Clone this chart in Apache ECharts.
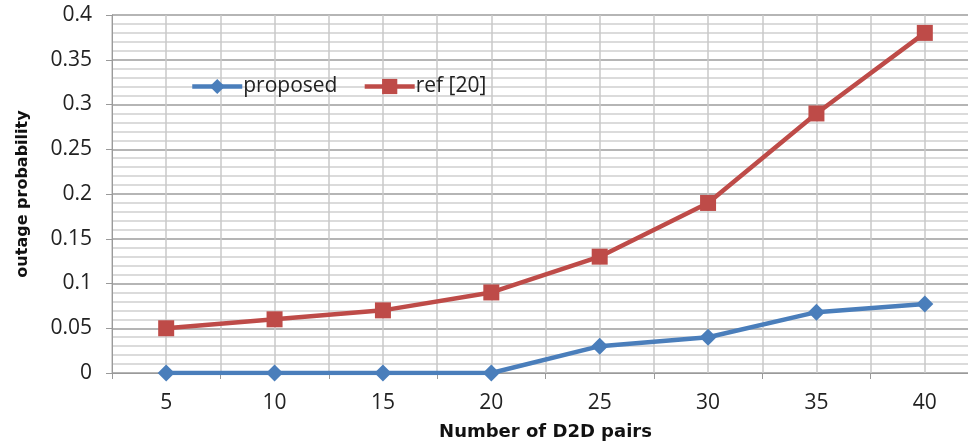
<!DOCTYPE html>
<html>
<head>
<meta charset="utf-8">
<script src="https://cdn.jsdelivr.net/npm/echarts@6/dist/echarts.min.js"></script>
<style>
  html, body { margin: 0; padding: 0; background: #fff; }
  #chart { width: 968px; height: 444px; }
</style>
</head>
<body>
<div id="chart"></div>
<script>
// Number of D2D pairs on the x axis
const pairCounts = ['5', '10', '15', '20', '25', '30', '35', '40'];
// Outage probability for each scheme
const proposedOutage = [0, 0, 0, 0, 0.03, 0.04, 0.068, 0.077];
const refOutage = [0.05, 0.06, 0.07, 0.09, 0.13, 0.19, 0.29, 0.38];
const yTicks = { min: 0, max: 0.4, step: 0.05 };

const FONT = '"Open Sans", "Liberation Sans", sans-serif';
const TITLE_FONT = '"DejaVu Sans", "Open Sans", sans-serif';
const BLUE = '#4A7EBB';
const RED = '#BE4B48';

const chart = echarts.init(document.getElementById('chart'), null, { renderer: 'canvas' });

chart.setOption({
  animation: false,
  backgroundColor: '#ffffff',
  grid: {
    left: 112, right: -11, top: 15, bottom: 71,
    containLabel: false,
    outerBoundsMode: 'none'
  },
  legend: {
    left: 185, top: 71,
    itemWidth: 50, itemHeight: 19, itemGap: 25,
    lineStyle: { width: 4.5 },
    textStyle: { fontFamily: FONT, fontSize: 21, color: '#222', padding: [0, 0, 0, -4] },
    data: ['proposed', 'ref [20]']
  },
  xAxis: [
    {
      type: 'category',
      data: pairCounts,
      boundaryGap: true,
      axisLine: { lineStyle: { color: '#9a9a9a', width: 1 } },
      axisTick: { show: true, length: 6, lineStyle: { color: '#9a9a9a' } },
      axisLabel: { fontFamily: FONT, fontSize: 21, color: '#222', margin: 20 },
      splitLine: { show: false },
      name: 'Number of D2D pairs',
      nameLocation: 'middle',
      nameGap: 50,
      nameTextStyle: { fontFamily: TITLE_FONT, fontSize: 18, fontWeight: 'bold', color: '#111' }
    },
    {
      // half-category grid: lines at every category boundary and centre
      type: 'value',
      min: 0, max: 16, interval: 1,
      position: 'bottom',
      axisLine: { show: false },
      axisTick: { show: false },
      axisLabel: { show: false },
      splitLine: { show: true, lineStyle: { color: '#c8c8c8', width: 1.5 } }
    }
  ],
  yAxis: {
    type: 'value',
    min: yTicks.min, max: yTicks.max, interval: yTicks.step,
    axisLine: { show: true, lineStyle: { color: '#9a9a9a' } },
    axisTick: { show: true, length: 6, lineStyle: { color: '#9a9a9a' } },
    axisLabel: { fontFamily: FONT, fontSize: 21, color: '#222', margin: 20 },
    splitLine: { show: true, lineStyle: { color: '#9c9c9c', width: 1.5 } },
    minorTick: { show: false, splitNumber: 5 },
    minorSplitLine: { show: true, lineStyle: { color: '#cfcfcf', width: 1.5 } },
    name: 'outage probability',
    nameLocation: 'middle',
    nameGap: 81,
    nameRotate: 90,
    nameTextStyle: { fontFamily: TITLE_FONT, fontSize: 16, fontWeight: 'bold', color: '#111' }
  },
  series: [
    {
      name: 'proposed',
      type: 'line',
      xAxisIndex: 0,
      data: proposedOutage,
      symbol: 'diamond',
      symbolSize: 17,
      lineStyle: { color: BLUE, width: 4.5 },
      itemStyle: { color: BLUE },
      z: 3
    },
    {
      name: 'ref [20]',
      type: 'line',
      xAxisIndex: 0,
      data: refOutage,
      symbol: 'rect',
      symbolSize: 16,
      lineStyle: { color: RED, width: 4.5 },
      itemStyle: { color: RED },
      z: 3
    }
  ]
});
</script>
</body>
</html>
